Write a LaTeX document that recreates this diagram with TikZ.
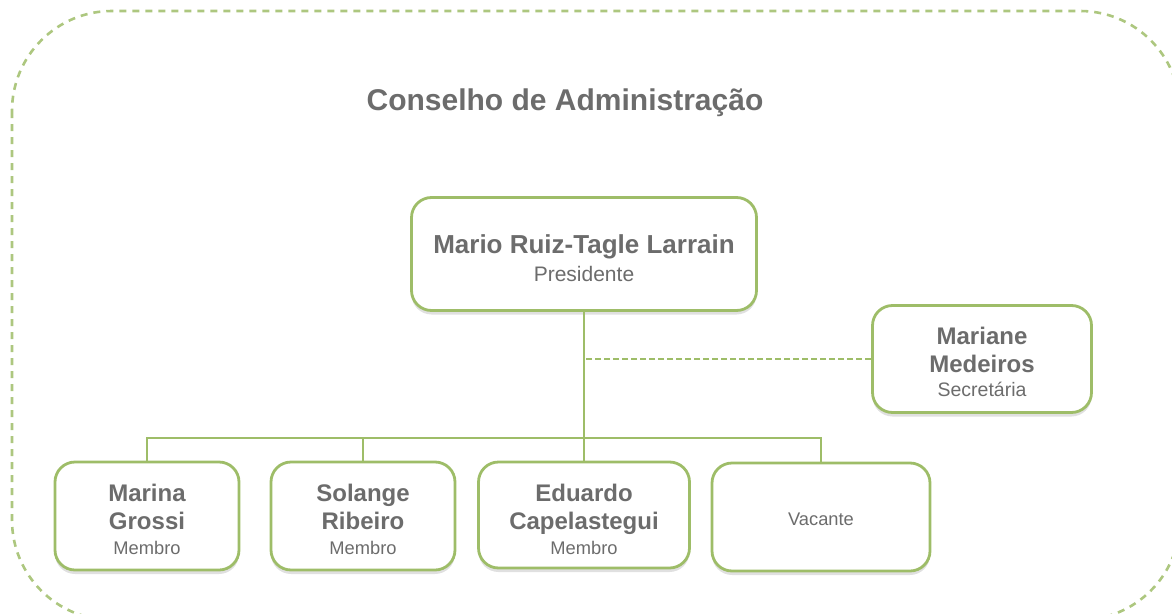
\documentclass[tikz,border=0pt]{standalone}
\usepackage{fontspec}
\setmainfont{Liberation Sans}
\usetikzlibrary{shadows}

\definecolor{leaf}{RGB}{158,189,104}
\definecolor{ink}{RGB}{108,108,108}

\tikzset{
	card/.style={draw=leaf, line width=2.8pt, rounded corners=20pt, fill=white, align=center, text=ink, inner sep=2pt,
		font=\fontsize{24}{28}\selectfont,
		drop shadow={shadow xshift=0pt, shadow yshift=-4pt, opacity=0.12, fill=black}},
	link/.style={draw=leaf, line width=2.8pt},
	staff/.style={draw=leaf, line width=2.8pt, dash pattern=on 6pt off 3pt},
	frame/.style={draw=leaf!85, line width=2.6pt, dash pattern=on 7pt off 6pt, rounded corners=100pt}
}

\newcommand{\who}[2]{{\bfseries\fontsize{#1}{28}\selectfont #2}}
\newcommand{\role}[2]{{\fontsize{#1}{23}\selectfont #2}}
\newcommand{\lift}[1]{\rule{0pt}{#1pt}}

\begin{document}
\begin{tikzpicture}[x=1pt,y=1pt,yscale=-1]
	\useasboundingbox (0,0) rectangle (1172,613);

	% Frame
	\draw [frame] (12,11) rectangle (1180,620);

	% Text Node
	\node (title) [anchor=base, text=ink, font=\bfseries\fontsize{30}{34}\selectfont] at (565,110) {Conselho de Administração};

	% Text Node
	\node (pres) [card, minimum width=345pt, minimum height=113pt] at (584,254) {\lift{27}\who{26}{Mario Ruiz-Tagle Larrain}\\\role{21}{Presidente}};
	% Text Node
	\node (sec) [card, minimum width=219pt, minimum height=107pt] at (982,359) {\lift{23}\who{24}{Mariane}\\\who{24}{Medeiros}\\[-4pt]\role{19.5}{Secretária}};
	% Text Node
	\node (marina) [card, minimum width=184pt, minimum height=108pt] at (147,516) {\lift{24}\who{24}{Marina}\\\who{24}{Grossi}\\[-3pt]\role{18.3}{Membro}};
	% Text Node
	\node (solange) [card, minimum width=184pt, minimum height=108pt] at (363,516) {\lift{24}\who{24}{Solange}\\\who{24}{Ribeiro}\\[-3pt]\role{18.3}{Membro}};
	% Text Node
	\node (eduardo) [card, minimum width=211pt, minimum height=106pt] at (584,515) {\lift{27}\who{24}{Eduardo}\\\who{24}{Capelastegui}\\[-3pt]\role{18.3}{Membro}};
	% Text Node
	\node (vacante) [card, minimum width=218pt, minimum height=108pt] at (821,517) {\lift{18}\role{18.3}{Vacante}};

	% Connection
	\coordinate (bus) at (584,438);
	\draw [link] (pres.south) -- (bus);
	\foreach \n in {marina,solange,eduardo,vacante}
		\draw [link] (bus) -| (\n.north);
	% Connection
	\coordinate (tap) at (pres.south |- sec.west);
	\draw [staff] (sec.west) -- (tap);

\end{tikzpicture}
\end{document}
